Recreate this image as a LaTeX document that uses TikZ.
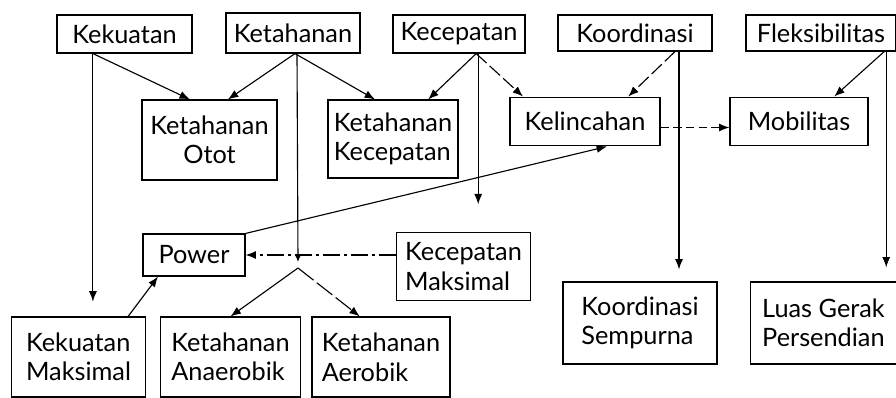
\documentclass[tikz,border=0pt]{standalone}
\usepackage{fontspec}
\setmainfont{Lato}
\usetikzlibrary{arrows.meta}
\begin{document}
\begin{tikzpicture}[x=0.025cm,y=-0.025cm,
  box/.style={draw, line width=0.8pt, inner sep=2pt, font=\fontsize{18}{21}\selectfont},
  link/.style={line width=0.8pt, -{Latex[length=2.6mm,width=2mm]}}]
\useasboundingbox (0,0) rectangle (896,397);
% top row
\node[box, minimum width=3.375cm, minimum height=0.95cm] (kekuatan) at (124.5,34) {Kekuatan};
\node[box, minimum width=3.35cm, minimum height=1cm] (ketahanan) at (293,33) {Ketahanan};
\node[box, minimum width=3.3cm, minimum height=0.95cm] (kecepatan) at (459,34) {Kecepatan};
\node[box, minimum width=3.85cm, minimum height=0.9cm] (koordinasi) at (635,33) {Koordinasi};
\node[box, minimum width=3.75cm, minimum height=0.9cm] (fleksibilitas) at (821,33) {Fleksibilitas};
% second row
\node[box, minimum width=3.375cm, minimum height=2cm, align=center] (ototnode) at (209.5,140) {Ketahanan\\Otot};
\node[box, minimum width=3.25cm, minimum height=1.95cm, align=left] (kecnode) at (393,139) {Ketahanan\\Kecepatan};
\node[box, minimum width=3.75cm, minimum height=1.22cm] (kelincahan) at (585,121.5) {Kelincahan};
\node[box, minimum width=3.45cm, minimum height=1.22cm] (mobilitas) at (799,121.5) {Mobilitas};
% third row
\node[box, minimum width=2.55cm, minimum height=1.05cm] (power) at (194,255) {Power};
\node[box, minimum width=3.33cm, minimum height=1.68cm, align=left] (kecmaks) at (463.5,266.5) {Kecepatan\\Maksimal};
% bottom row
\node[box, minimum width=3.33cm, minimum height=2cm, align=left] (kekmaks) at (78.5,357) {Kekuatan\\Maksimal};
\node[box, minimum width=3.48cm, minimum height=2cm, align=left] (anaerob) at (230.5,357) {Ketahanan\\Anaerobik};
\node[box, minimum width=3.45cm, minimum height=2cm, align=left] (aerob) at (381,357) {Ketahanan\\Aerobik};
\node[box, minimum width=3.85cm, minimum height=2.05cm, align=left] (koorsemp) at (640,323) {Koordinasi\\Sempurna};
\node[box, minimum width=3.63cm, minimum height=2.05cm, align=left] (luas) at (823.5,323) {Luas Gerak\\Persendian};
\coordinate (split) at (298,262);
\coordinate (fork) at (298,268);
% connectors
\draw[link] ([xshift=-0.79cm]kekuatan.south) -- ([xshift=-0.49cm]ototnode.north);
\draw[link, shorten >=0.37cm] ([xshift=-0.79cm]kekuatan.south) -- ([xshift=-0.79cm]kekuatan.south |- kekmaks.north);
\draw[link] ([xshift=0.05cm]ketahanan.south) -- ([xshift=0.46cm]ototnode.north);
\draw[link] ([xshift=0.05cm]ketahanan.south) -- ([xshift=-0.45cm]kecnode.north);
\draw[line width=0.8pt, -{Latex[length=1.6mm,width=1.4mm]}] ([xshift=0.1cm]ketahanan.south) -- (split);
\draw[link] (fork) -- (anaerob.north);
\draw[link, dash pattern=on 14pt off 3pt] (fork) -- ([xshift=-0.53cm]aerob.north);
\draw[link, dash pattern=on 12pt off 3pt on 2pt off 3pt] (kecmaks.west |- power.east) -- (power.east);
\draw[link] ([xshift=0.43cm]kecepatan.south) -- ([xshift=0.88cm]kecnode.north);
\draw[link, dash pattern=on 10pt off 3pt] ([xshift=0.43cm]kecepatan.south) -- ([xshift=-1.55cm]kelincahan.north);
\draw[link, shorten >=0.7cm] ([xshift=0.48cm]kecepatan.south) -- ([xshift=0.48cm]kecepatan.south |- kecmaks.north);
\draw[link, dash pattern=on 10pt off 3pt] ([xshift=1cm]koordinasi.south) -- ([xshift=1.08cm]kelincahan.north);
\draw[link, shorten >=0.3cm] ([xshift=1.1cm]koordinasi.south) -- ([xshift=1.1cm]koordinasi.south |- koorsemp.north);
\draw[link] ([xshift=1.58cm]fleksibilitas.south) -- ([xshift=0.88cm]mobilitas.north);
\draw[link, shorten >=0.35cm] ([xshift=1.63cm]fleksibilitas.south) -- ([xshift=1.63cm]fleksibilitas.south |- luas.north);
\draw[link, dash pattern=on 6pt off 3pt] ([yshift=-0.15cm]kelincahan.east) -- ([yshift=-0.15cm]mobilitas.west);
\draw[link] (power.north east) -- ([xshift=0.55cm]kelincahan.south);
\draw[link] ([xshift=1.24cm]kekmaks.north) -- ([xshift=-0.9cm]power.south);
\end{tikzpicture}
\end{document}
